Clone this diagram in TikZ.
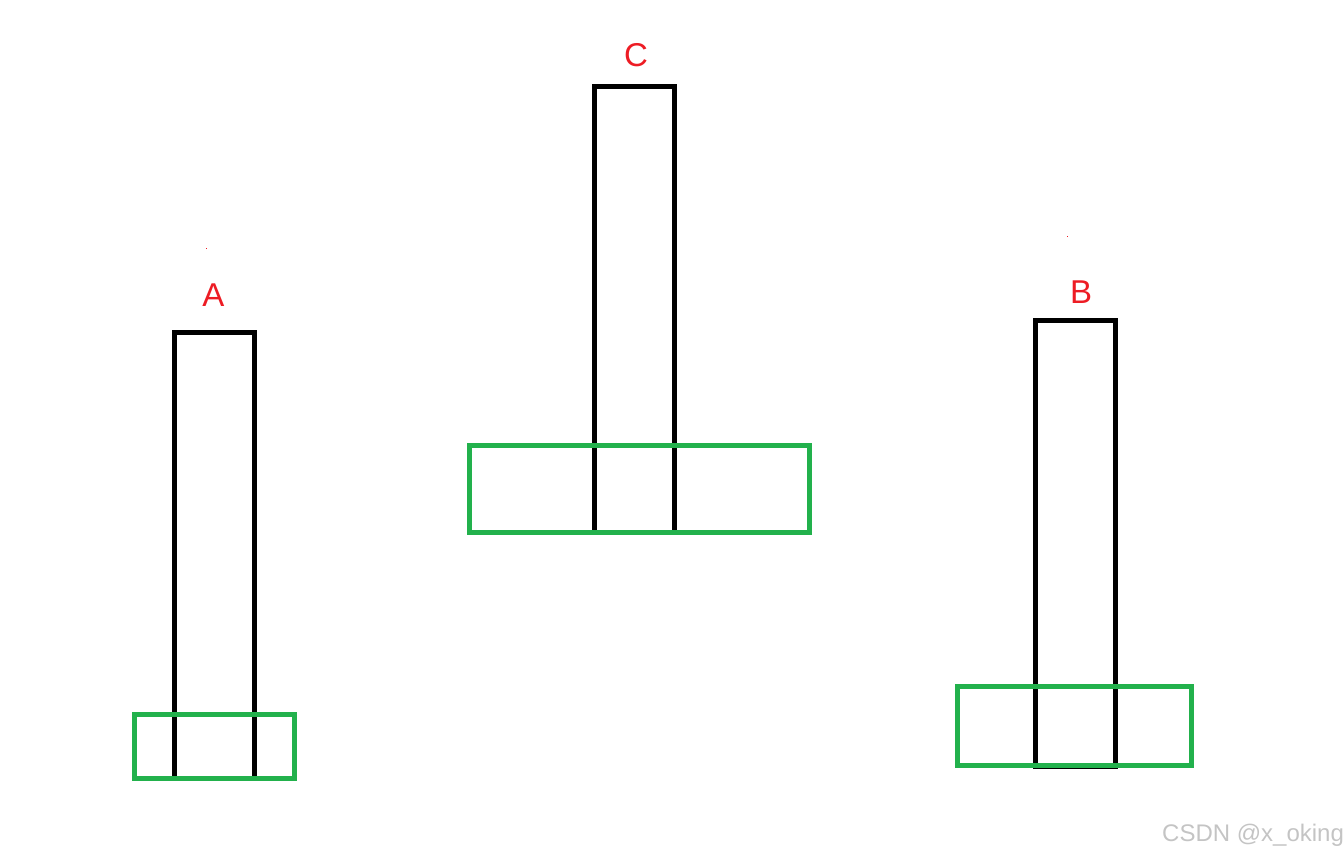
\documentclass[tikz,border=0pt]{standalone}
\usepackage{fontspec}
\setmainfont{Liberation Sans}
\definecolor{pred}{HTML}{ED1C24}
\definecolor{pgreen}{HTML}{22B14C}
\definecolor{wm}{HTML}{C4C4C4}
\tikzset{
  post/.style={draw=black, line width=5pt},
  base/.style={draw=pgreen, line width=5pt},
  lbl/.style={text=pred, font=\fontsize{33}{33}\selectfont, inner sep=0pt},
}
\begin{document}
\begin{tikzpicture}[x=1pt,y=-1pt]
\useasboundingbox (0,0) rectangle (1343,857);
% posts
\draw[post] (174,332.5) rectangle (254,778);
\draw[post] (594.5,86.7) rectangle (674.3,532);
\draw[post] (1035.5,320.7) rectangle (1115.5,766.5);
% bases
\draw[base] (134.5,714.5) rectangle (294.5,778);
\draw[base] (469.5,445.7) rectangle (809.5,532.7);
\draw[base] (957.7,686.5) rectangle (1191.7,765.2);
% labels
\node[lbl] (la) at (213.3,294.7) {A};
\node[lbl] (lc) at (636,55.5) {C};
\node[lbl] (lb) at (1081,292) {B};
% stray dots
\fill[pred] (206,247.5) rectangle (207,248.5);
\fill[pred] (1067,235.5) rectangle (1068,236.5);
% watermark
\node[anchor=west, text=wm, inner sep=0pt, font=\fontsize{24}{24}\selectfont] (wmk) at (1162,835) {CSDN @x\_oking};
\end{tikzpicture}
\end{document}
